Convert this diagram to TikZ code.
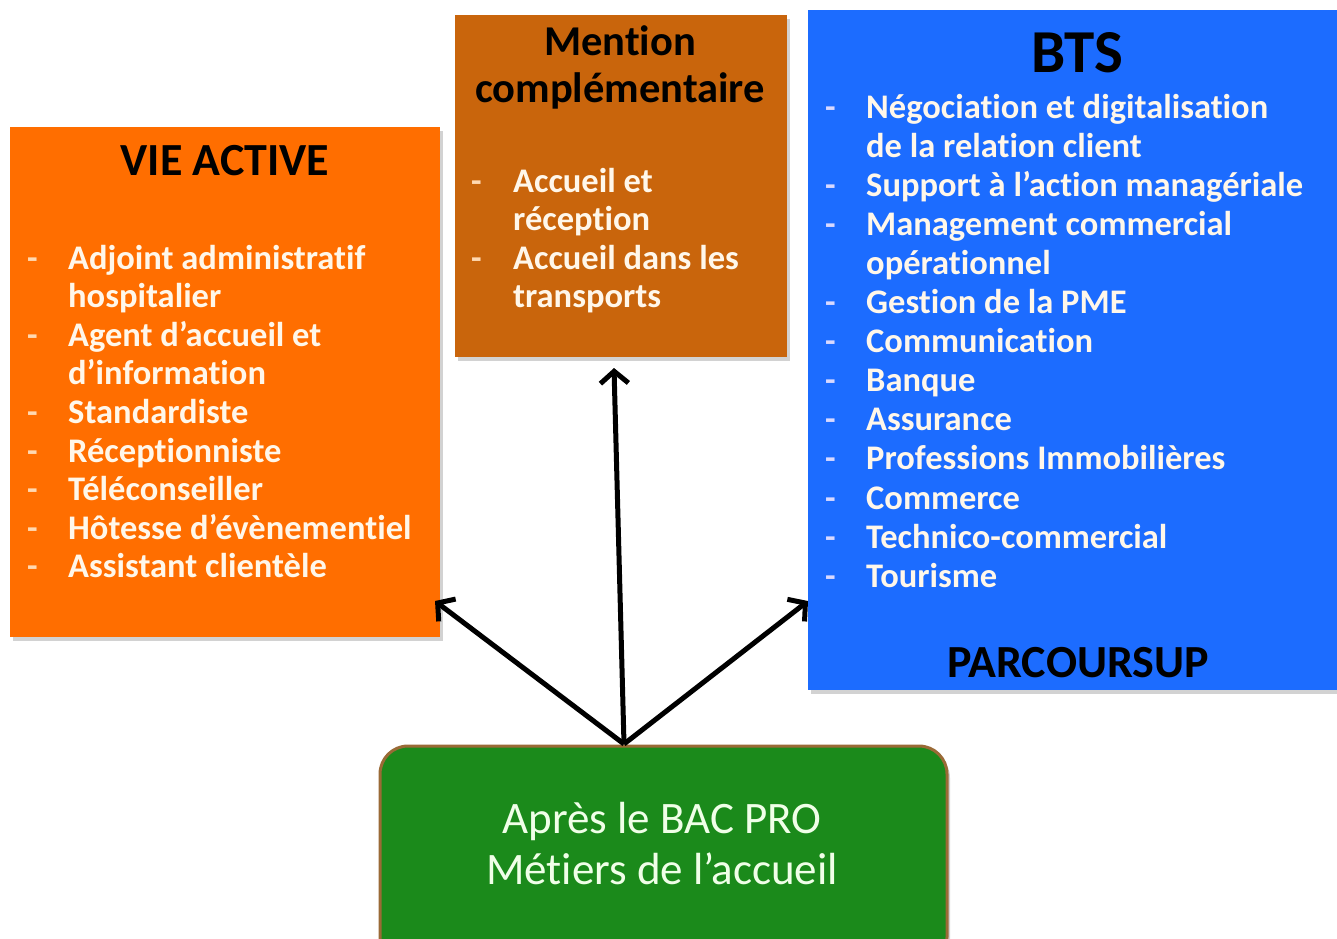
\documentclass[tikz,border=0pt]{standalone}
\usepackage{fontspec}
\setmainfont{Carlito}[Ligatures={TeX,NoCommon}]
\usetikzlibrary{arrows.meta,shadows}
\definecolor{vieorange}{HTML}{FF6E00}
\definecolor{mcbrown}{HTML}{C9650C}
\definecolor{btsblue}{HTML}{1C6CFF}
\definecolor{bacgreen}{HTML}{1B8A1B}
\definecolor{bacedge}{HTML}{9A6A36}
\definecolor{itemtxt}{HTML}{FFF7EA}
\definecolor{bactxt}{HTML}{F0FFE8}
\begin{document}
\begin{tikzpicture}[x=1pt,y=-1pt,
  box/.style={inner sep=0pt, outer sep=0pt, draw=none,
    drop shadow={opacity=0.35, shadow xshift=3pt, shadow yshift=-4pt}},
  ttl/.style={font=\fontsize{46}{52}\selectfont\bfseries, text=black, inner sep=0pt, anchor=base},
  itm/.style={font=\fontsize{34.5}{40}\selectfont\bfseries, text=itemtxt, inner sep=0pt, anchor=base west},
  dsh/.style={font=\fontsize{34.5}{40}\selectfont\bfseries, inner sep=0pt, anchor=base west},
  bactext/.style={font=\fontsize{45}{52}\selectfont, text=bactxt, inner sep=0pt, anchor=base},
  arr/.style={line width=5pt, -{Straight Barb[length=12pt,width=28pt]}},
]
\useasboundingbox (0,0) rectangle (1337,938);
\clip (0,0) rectangle (1337,938);
\fill[white] (0,0) rectangle (1337,938);

% boxes
\node[box, fill=vieorange, minimum width=430pt, minimum height=510pt] (vie) at (225,382) {};
\node[box, fill=mcbrown, minimum width=332pt, minimum height=342pt] (mc) at (621,186) {};
\node[box, fill=btsblue, minimum width=532pt, minimum height=680pt] (bts) at (1074,350) {};
\node[box, fill=bacgreen, draw=bacedge, line width=3pt, rounded corners=28pt,
      minimum width=567pt, minimum height=219pt] (bac) at (663.5,855.5) {};

% titles
\node[ttl] (vietitle) at (225,175) {VIE ACTIVE};
\node[ttl, font=\fontsize{42.5}{48}\selectfont\bfseries] (mctitleA) at (620,55) {Mention};
\node[ttl, font=\fontsize{42.5}{48}\selectfont\bfseries] (mctitleB) at (620,102) {complémentaire};
\node[ttl, font=\fontsize{61}{66}\selectfont\bfseries] (btstitle) at (1077,72) {BTS};
\node[ttl] (parcoursup) at (1078,677) {PARCOURSUP};

% VIE ACTIVE list
\foreach [count=\i] \d/\t in {1/Adjoint administratif, 0/hospitalier, 1/Agent d’accueil et,
  0/d’information, 1/Standardiste, 1/Réceptionniste, 1/Téléconseiller,
  1/Hôtesse d’évènementiel, 1/Assistant clientèle}{
  \node[itm] (va\i) at (68,{269+38.6*(\i-1)}) {\t};
  \ifnum\d=1 \node[dsh, text=orange!30!white] (vad\i) at (27,{269+38.6*(\i-1)}) {-};\fi
}

% Mention list
\foreach [count=\i] \d/\t in {1/Accueil et, 0/réception, 1/Accueil dans les, 0/transports}{
  \node[itm] (mi\i) at (513,{192+38.6*(\i-1)}) {\t};
  \ifnum\d=1 \node[dsh, text=orange!30!white] (mid\i) at (471,{192+38.6*(\i-1)}) {-};\fi
}

% BTS list
\foreach [count=\i] \d/\t in {1/Négociation et digitalisation, 0/de la relation client,
  1/Support à l’action managériale, 1/Management commercial, 0/opérationnel,
  1/Gestion de la PME, 1/Communication, 1/Banque, 1/Assurance,
  1/Professions Immobilières, 1/Commerce, 1/Technico-commercial, 1/Tourisme}{
  \node[itm] (bt\i) at (866,{118+39.1*(\i-1)}) {\t};
  \ifnum\d=1 \node[dsh, text=blue!15!white] (btd\i) at (825,{118+39.1*(\i-1)}) {-};\fi
}

% green box text
\node[bactext] (bacA) at (662,833) {Après le BAC PRO};
\node[bactext] (bacB) at (662,884) {Métiers de l’accueil};

% connectors
\coordinate (src) at (624,744);
\coordinate (tipL) at (435,601);
\coordinate (tipU) at (614,368);
\coordinate (tipR) at (808,601);
\draw[arr] (src) -- (tipL);
\draw[arr] (src) -- (tipU);
\draw[arr] (src) -- (tipR);
\end{tikzpicture}
\end{document}
